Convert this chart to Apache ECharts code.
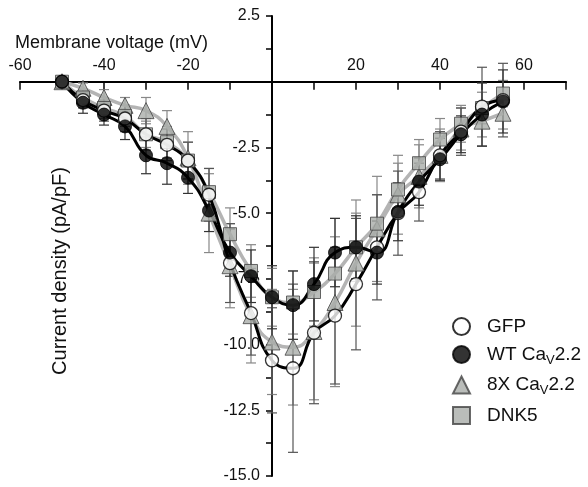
<!DOCTYPE html>
<html>
<head>
<meta charset="utf-8">
<script src="https://cdn.jsdelivr.net/npm/echarts@6/dist/echarts.min.js"></script>
<style>html,body{margin:0;padding:0;background:#fff;}#c{width:588px;height:487px;}</style>
</head>
<body>
<div id="c"></div>
<script>
const volt = [-50,-45,-40,-35,-30,-25,-20,-15,-10,-5,0,5,10,15,20,25,30,35,40,45,50,55];
const gfp  = [0,-0.7,-1.1,-1.4,-2.0,-2.4,-3.0,-4.3,-6.9,-8.8,-10.6,-10.9,-9.55,-8.9,-7.7,-6.3,-5.0,-4.2,-2.8,-1.9,-0.95,-0.7];
const wt   = [0,-0.8,-1.25,-1.7,-2.8,-3.1,-3.65,-4.9,-6.5,-7.4,-8.2,-8.5,-7.7,-6.5,-6.3,-6.5,-4.95,-3.8,-2.95,-2.0,-1.25,-0.75];
const x8   = [0,-0.25,-0.6,-0.9,-1.1,-1.7,-2.9,-5.0,-7.0,-8.9,-9.9,-10.1,-9.5,-8.4,-6.9,-5.6,-4.3,-3.6,-2.8,-1.8,-1.5,-1.2];
const dnk5 = [0,-0.6,-1.0,-1.3,-2.0,-2.3,-3.0,-4.2,-5.8,-7.2,-8.2,-8.4,-8.0,-7.3,-6.3,-5.4,-4.1,-3.1,-2.2,-1.6,-1.0,-0.45];
const gfpErr  = [0,0.3,0.4,0.5,0.6,0.6,0.7,1.0,1.5,1.6,2.0,3.2,2.7,2.6,2.5,2.0,1.6,1.1,0.9,0.9,1.5,1.4];
const wtErr   = [0,0.4,0.4,0.5,0.7,0.8,0.6,0.8,0.9,1.0,1.2,1.3,1.4,1.3,1.2,1.2,1.1,0.9,0.8,0.7,1.2,1.2];
const x8Err   = [0,0.2,0.3,0.3,0.5,0.6,1.0,1.5,1.6,1.8,2.0,2.2,2.6,3.2,2.4,2.0,1.5,1.2,1.0,0.8,0.6,0.6];
const dnk5Err = [0,0.3,0.4,0.4,0.5,0.6,0.7,0.9,1.0,1.0,1.1,1.2,1.3,1.4,1.3,1.1,1.0,0.9,0.8,0.7,0.6,0.5];
const names = ['GFP', 'WT CaV2.2', '8X CaV2.2', 'DNK5'];
const xTitle = 'Membrane voltage (mV)';
const yTitle = 'Current density (pA/pF)';

const FONT = "Arial, 'Liberation Sans', sans-serif";
const grayFill = '#a9aca9';
const grayLine = '#b4b4b4';

// layout of the plotting area (pixels)
const G = { left: 20, right: 22, top: 16, bottom: 11 };
const W = 588 - G.left - G.right, H = 487 - G.top - G.bottom;
const X_MIN = -60, X_MAX = 70, Y_MIN = -15, Y_MAX = 2.5;
const xAxisOffset = -(Y_MAX / (Y_MAX - Y_MIN)) * H;       // move x axis down to y = 0
const yAxisOffset = -(-X_MIN / (X_MAX - X_MIN)) * W;      // move y axis right to x = 0

function errSeries(id, vals, errs, color) {
  return {
    type: 'custom', name: id, silent: true, z: 1,
    data: volt.map((v, i) => [v, vals[i], errs[i]]),
    encode: { x: 0, y: 1 },
    renderItem: function (params, api) {
      const x = api.value(0), y = api.value(1), e = api.value(2);
      if (!e) return null;
      const t = api.coord([x, y + e]);
      const b = api.coord([x, y - e]);
      const w = 5;
      const st = { stroke: color, lineWidth: 1.2 };
      return { type: 'group', children: [
        { type: 'line', shape: { x1: t[0], y1: t[1], x2: b[0], y2: b[1] }, style: st },
        { type: 'line', shape: { x1: t[0] - w, y1: t[1], x2: t[0] + w, y2: t[1] }, style: st },
        { type: 'line', shape: { x1: b[0] - w, y1: b[1], x2: b[0] + w, y2: b[1] }, style: st }
      ]};
    }
  };
}
function fitSeries(id, vals, color, width) {
  return {
    type: 'line', name: id, silent: true, z: 2, smooth: 0.5,
    showSymbol: false, symbol: 'none',
    data: volt.map((v, i) => [v, vals[i]]),
    lineStyle: { color: color, width: width }
  };
}
function markSeries(name, vals, symbol, size, style, z) {
  return {
    type: 'scatter', name: name, z: z, symbol: symbol, symbolSize: size,
    data: volt.map((v, i) => [v, vals[i]]),
    itemStyle: style
  };
}

const chart = echarts.init(document.getElementById('c'), null, { renderer: 'canvas' });
chart.setOption({
  animation: false,
  backgroundColor: '#fff',
  grid: { left: G.left, right: G.right, top: G.top, bottom: G.bottom, containLabel: false, outerBoundsMode: 'none' },
  xAxis: {
    type: 'value', position: 'top', min: X_MIN, max: X_MAX, interval: 10, offset: xAxisOffset,
    axisLine: { onZero: false, lineStyle: { color: '#000', width: 2 } },
    axisTick: { inside: true, length: 8, lineStyle: { color: '#000', width: 1.5 } },
    axisLabel: {
      margin: 8, color: '#111', fontSize: 16, fontFamily: FONT,
      formatter: v => (v % 20 === 0 && v !== 0 && v <= 60) ? String(v) : ''
    },
    splitLine: { show: false }
  },
  yAxis: {
    type: 'value', position: 'left', min: Y_MIN, max: Y_MAX, interval: 1.25, offset: yAxisOffset,
    axisLine: { onZero: false, lineStyle: { color: '#000', width: 2 } },
    axisTick: { inside: false, length: 6, lineStyle: { color: '#000', width: 1.5 } },
    axisLabel: {
      margin: 12, color: '#111', fontSize: 16, fontFamily: FONT,
      formatter: v => {
        const k = v / 2.5;
        if (Math.abs(k - Math.round(k)) > 1e-6 || Math.abs(v) < 1e-9) return '';
        return v.toFixed(1);
      }
    },
    splitLine: { show: false }
  },
  legend: {
    data: names, orient: 'vertical', left: 447, top: 312,
    itemWidth: 17, itemHeight: 17, itemGap: 9,
    textStyle: {
      fontSize: 19, fontFamily: FONT, color: '#111', padding: [0, 0, 0, 12],
      rich: { s: { fontSize: 13, fontFamily: FONT, color: '#111', padding: [11, 0, 0, 0] } }
    },
    formatter: n => n.replace('CaV', 'Ca{s|V}')
  },
  graphic: [
    { type: 'text', left: 15, top: 34, silent: true,
      style: { text: xTitle, fill: '#111', font: '18px ' + FONT } },
    { type: 'text', x: 60, y: 271, rotation: Math.PI / 2, silent: true,
      style: { text: yTitle, fill: '#111', font: '20px ' + FONT, textAlign: 'center', textVerticalAlign: 'middle' } }
  ],
  series: [
    errSeries('e8x', x8, x8Err, '#888'),
    errSeries('ednk', dnk5, dnk5Err, '#888'),
    errSeries('egfp', gfp, gfpErr, '#555'),
    errSeries('ewt', wt, wtErr, '#333'),
    fitSeries('f8x', x8, grayLine, 3.5),
    fitSeries('fdnk', dnk5, grayLine, 3.5),
    fitSeries('fgfp', gfp, '#000', 3),
    fitSeries('fwt', wt, '#000', 3),
    markSeries(names[2], x8, 'triangle', 16, { color: grayFill, borderColor: '#444', borderWidth: 1 }, 3),
    markSeries(names[3], dnk5, 'rect', 13, { color: grayFill, borderColor: '#444', borderWidth: 1 }, 3),
    markSeries(names[0], gfp, 'circle', 13, { color: '#fff', borderColor: '#000', borderWidth: 1.3 }, 4),
    markSeries(names[1], wt, 'circle', 13, { color: '#000', borderColor: '#000', borderWidth: 1 }, 4)
  ]
});
</script>
</body>
</html>
